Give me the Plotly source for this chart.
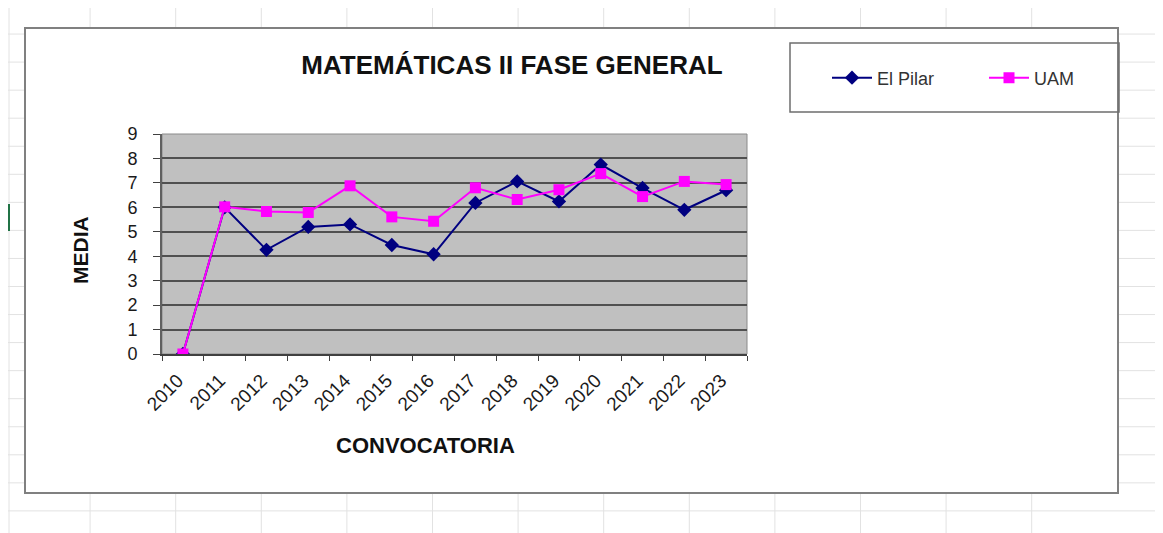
import plotly.graph_objects as go

# data
years = ["2010", "2011", "2012", "2013", "2014", "2015", "2016",
         "2017", "2018", "2019", "2020", "2021", "2022", "2023"]
el_pilar = [0, 6.0, 4.26, 5.2, 5.3, 4.46, 4.08, 6.18, 7.06, 6.24, 7.75, 6.79, 5.9, 6.7]
uam = [0, 6.02, 5.83, 5.79, 6.88, 5.61, 5.43, 6.8, 6.32, 6.72, 7.38, 6.44, 7.06, 6.93]
y_ticks = list(range(0, 10))

# page body has an 8px margin, so the figure is drawn 8px in from the window corner
OFF = 8
W, H = 1163 - OFF, 533 - OFF
L, R, T, B = 162, 747, 134, 354  # plot area, screen pixels
FONT = "Liberation Sans, Arial, sans-serif"


def px(x):
    return (x - L) / (R - L)


def py(y):
    return (B - y) / (B - T)


def seg(x0, y0, x1, y1, color="#e2e2e2", width=1):
    return dict(type="line", xref="paper", yref="paper",
                x0=px(x0), y0=py(y0), x1=px(x1), y1=py(y1),
                line=dict(color=color, width=width))


fig = go.Figure()
fig.add_trace(go.Scatter(
    x=years, y=el_pilar, name="El Pilar", mode="lines+markers",
    line=dict(color="#000080", width=2),
    marker=dict(symbol="diamond", size=11, color="#000080"),
))
fig.add_trace(go.Scatter(
    x=years, y=uam, name="UAM", mode="lines+markers",
    line=dict(color="#ff00ff", width=2),
    marker=dict(symbol="square", size=11, color="#ff00ff"),
))

# spreadsheet cell grid around the chart object
shapes = []
box = (25, 28, 1118, 493)
row_ys = [6 + 28.05 * k for k in range(20)]
col_xs = [4.5 + 85.6 * k for k in range(14)]
for y in row_ys:
    if y < box[1] or y > box[3]:
        shapes.append(seg(OFF, y, 1163, y))
    else:
        shapes.append(seg(OFF, y, box[0], y))
        shapes.append(seg(box[2], y, 1163, y))
for x in col_xs:
    if x < box[0]:
        continue
    elif x < box[2] - 3:
        shapes.append(seg(x, OFF, x, box[1]))
        shapes.append(seg(x, box[3], x, 533))
shapes.append(seg(OFF + 1, OFF, OFF + 1, 533))
shapes.append(seg(OFF + 1, 204, OFF + 1, 231, color="#217346", width=2))
# chart border, plot-area border and legend box
shapes.append(dict(type="rect", xref="paper", yref="paper",
                   x0=px(box[0]), y0=py(box[1]), x1=px(box[2]), y1=py(box[3]),
                   line=dict(color="#808080", width=2)))
shapes.append(dict(type="rect", xref="paper", yref="paper",
                   x0=0, y0=0, x1=1, y1=1, layer="below",
                   line=dict(color="#8a8a8a", width=1)))
shapes.append(dict(type="rect", xref="paper", yref="paper",
                   x0=px(790), y0=py(43), x1=px(1119), y1=py(112),
                   line=dict(color="#6e6e6e", width=1.5)))

# axis titles sit off-centre in the original, so place them as annotations
annotations = [
    dict(text="<b>CONVOCATORIA</b>", xref="paper", yref="paper",
         x=px(425), y=py(445), xanchor="center", yanchor="middle", showarrow=False,
         font=dict(size=22, color="#111111")),
    dict(text="<b>MEDIA</b>", xref="paper", yref="paper", textangle=-90,
         x=px(80), y=py(250), xanchor="center", yanchor="middle", showarrow=False,
         font=dict(size=21, color="#111111")),
]

fig.update_layout(
    width=W, height=H,
    margin=dict(l=L - OFF, r=W - (R - OFF), t=T - OFF, b=H - (B - OFF), pad=0),
    paper_bgcolor="white",
    plot_bgcolor="#c0c0c0",
    font=dict(family=FONT, color="#1a1a1a", size=18),
    title=dict(text="<b>MATEMÁTICAS II FASE GENERAL</b>",
               font=dict(size=26, color="#111111"),
               xref="paper", yref="container",
               x=px(512), xanchor="center", y=1 - (65 - OFF) / H, yanchor="middle"),
    showlegend=True,
    legend=dict(orientation="h", x=px(827), y=py(78), xanchor="left", yanchor="middle",
                bgcolor="rgba(0,0,0,0)", borderwidth=0,
                font=dict(size=18, color="#333333"),
                itemwidth=40, entrywidth=102, tracegroupgap=0),
    xaxis=dict(
        type="category", range=[-0.5, 13.5],
        tickangle=-45, ticks="outside", tickson="boundaries", ticklen=5,
        ticklabelstandoff=6, ticklabelshift=-5, tickfont=dict(size=19),
        tickcolor="#404040", showgrid=False, showline=True,
        linecolor="#404040", linewidth=2, zeroline=False,
    ),
    yaxis=dict(
        range=[0, 9], tickvals=y_ticks, ticks="outside", ticklen=7,
        ticklabelstandoff=12, tickfont=dict(size=18),
        tickcolor="#404040", showgrid=True, gridcolor="#505050", gridwidth=1.5,
        showline=True, linecolor="#606060", linewidth=2, zeroline=False,
    ),
    shapes=shapes,
    annotations=annotations,
)

fig.write_html("out.html")
